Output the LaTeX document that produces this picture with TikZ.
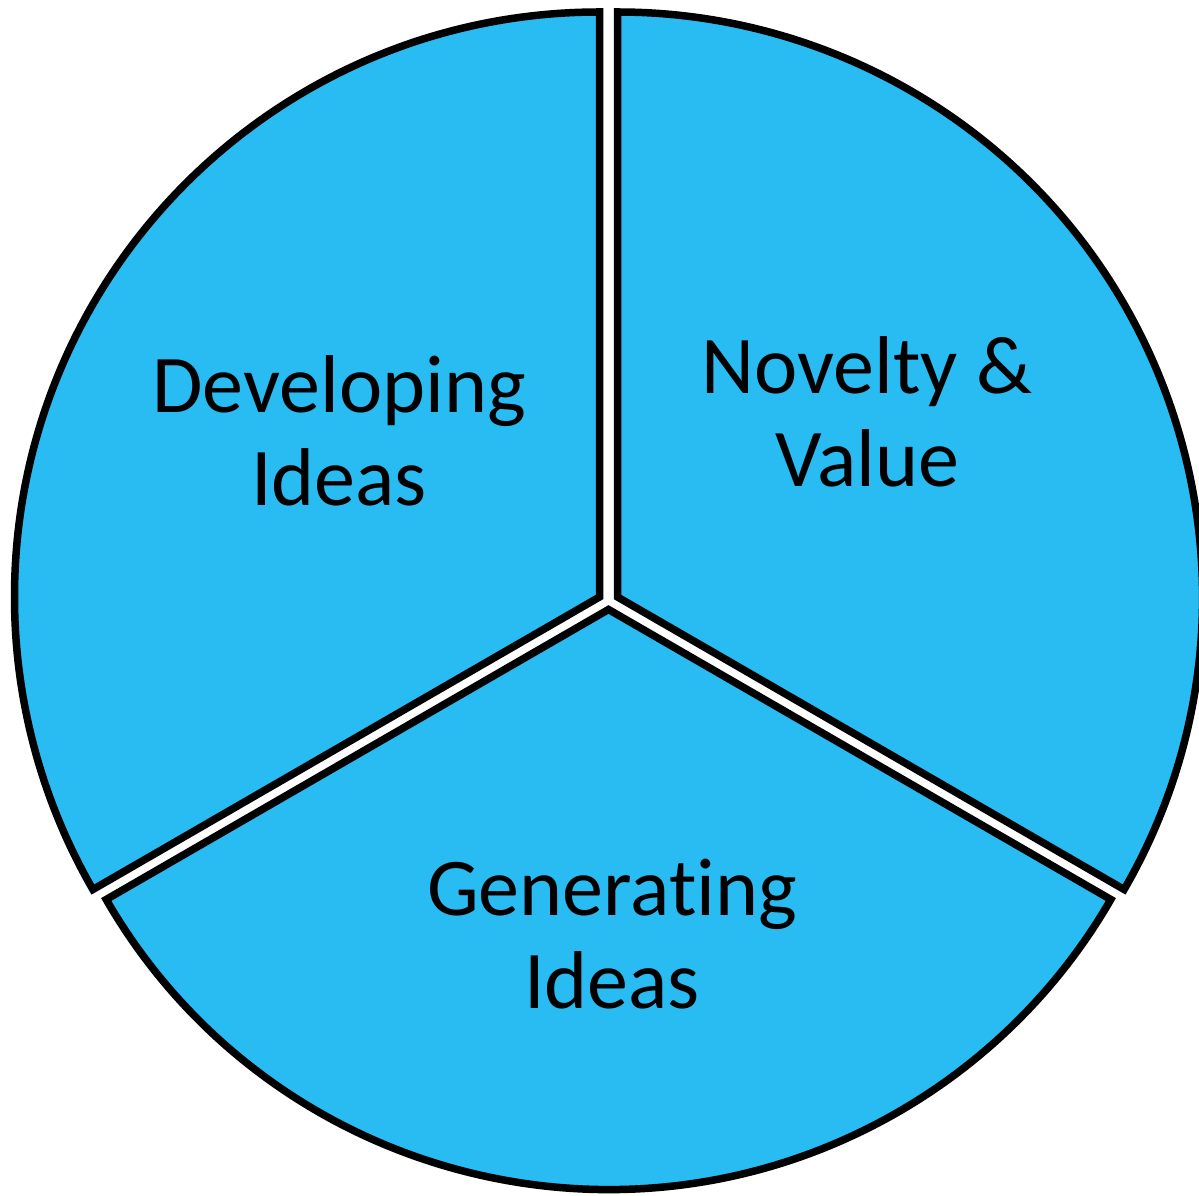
\documentclass[tikz,border=0pt]{standalone}
\usepackage{fontspec}
\setmainfont[Ligatures=NoCommon]{Carlito}
\definecolor{pieblue}{RGB}{41,188,242}
\tikzset{
  sector/.style={fill=pieblue, draw=black, line width=7.5pt, line join=miter},
  label/.style={align=center, anchor=base, font=\fontsize{82}{93}\selectfont}
}
\begin{document}
\begin{tikzpicture}[x=1pt, y=1pt]
        \useasboundingbox (0,0) rectangle (1199,1195);

        % Apexes of the exploded slices
        \coordinate (devtip) at (599.5,598);
        \coordinate (novtip) at (617.5,598);
        \coordinate (gentip) at (608.5,585.5);

        % Developing ideas slice
        \draw[sector] (devtip) -- ++(90:585) arc[start angle=90, end angle=210, radius=585] -- cycle;

        % Novelty and value slice
        \draw[sector] (novtip) -- ++(-30:585) arc[start angle=-30, end angle=90, radius=585] -- cycle;

        % Generating ideas slice
        \draw[sector] (gentip) -- ++(210:580) arc[start angle=210, end angle=330, radius=580] -- cycle;

        % Labels (base is the last line)
        \node[label] (develop) at (339,689) {Developing\\Ideas};
        \node[label] (novelty) at (867,708) {Novelty \&\\Value};
        \node[label] (generate) at (612,187) {Generating\\Ideas};
      \end{tikzpicture}
\end{document}
